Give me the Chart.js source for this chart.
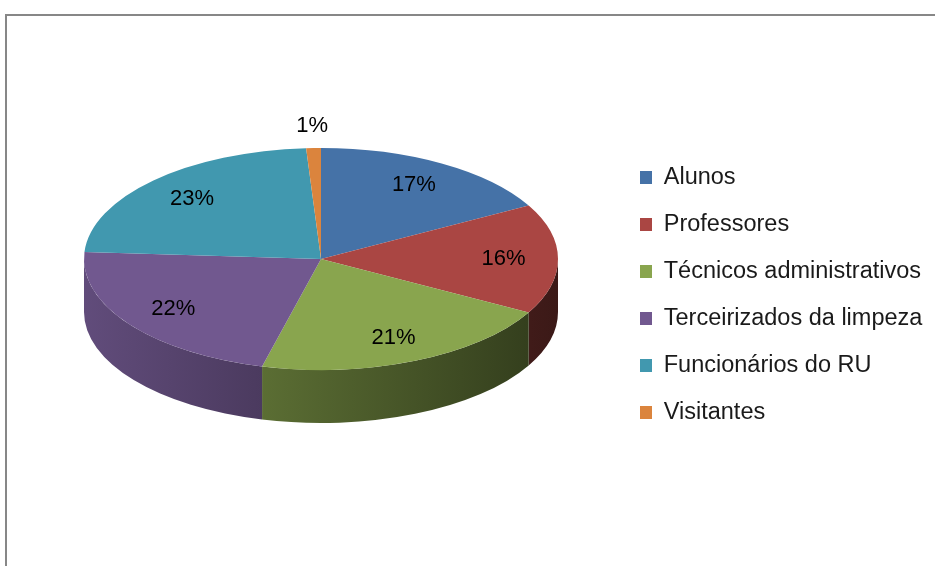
<!DOCTYPE html>
<html><head><meta charset="utf-8">
<script src="https://cdn.jsdelivr.net/npm/chart.js@4.4.1/dist/chart.umd.min.js"></script>
<style>html,body{margin:0;padding:0;background:#fff;overflow:hidden}canvas{display:block}</style>
</head><body>
<canvas id="c" width="935" height="566"></canvas>
<script>
// ---- data ----
const categories = ['Alunos', 'Professores', 'Técnicos administrativos', 'Terceirizados da limpeza', 'Funcionários do RU', 'Visitantes'];
const shares = [17, 16, 21, 22, 23, 1];
const sliceColors = ['#4572A7', '#AA4643', '#89A54E', '#71588F', '#4198AF', '#DB843D'];

// ---- 3D look (projection of the library's pie onto a tilted disc) ----
const GEO = { cx: 321, cy: 259, rx: 237, ry: 111, depth: 53 };
const FONT = 'Liberation Sans, Arial, sans-serif';

function shade(hex, k) {
  const n = parseInt(hex.slice(1), 16);
  const r = Math.round(((n >> 16) & 255) * k), g = Math.round(((n >> 8) & 255) * k), b = Math.round((n & 255) * k);
  return 'rgb(' + r + ',' + g + ',' + b + ')';
}

const pie3d = {
  id: 'pie3d',
  beforeDraw(chart) {
    const ctx = chart.ctx;
    ctx.save();
    ctx.fillStyle = '#878787';
    ctx.fillRect(5, 14, 930, 2);
    ctx.fillRect(5, 14, 2, 552);
    ctx.restore();
  },
  afterLayout(chart) {
    const lg = chart.legend;
    if (!lg) return;
    const pad = lg.options.labels.padding;
    const w = lg.width;
    lg.left = 640 - pad; lg.right = lg.left + w;
    lg.top += 12; lg.bottom += 12;
  },
  beforeDatasetsDraw(chart) {
    const ctx = chart.ctx;
    const arcs = chart.getDatasetMeta(0).data;
    if (!arcs.length) return;
    const R = arcs[0].outerRadius, ox = arcs[0].x, oy = arcs[0].y;
    const { cx, cy, rx, ry, depth } = GEO;
    arcs.forEach((arc, i) => {
      const s = Math.max(arc.startAngle, 0), e = Math.min(arc.endAngle, Math.PI);
      if (e <= s) return;
      const col = sliceColors[i];
      const g = ctx.createLinearGradient(cx - rx, 0, cx + rx, 0);
      g.addColorStop(0, shade(col, 0.86));
      g.addColorStop(0.36, shade(col, 0.67));
      g.addColorStop(1, shade(col, 0.35));
      ctx.beginPath();
      ctx.ellipse(cx, cy, rx, ry, 0, s, e, false);
      ctx.ellipse(cx, cy + depth, rx, ry, 0, e, s, true);
      ctx.closePath();
      ctx.fillStyle = g;
      ctx.fill();
    });
    ctx.save();
    ctx.translate(cx, cy);
    ctx.scale(rx / R, ry / R);
    ctx.translate(-ox, -oy);
  },
  afterDatasetsDraw(chart) {
    const ctx = chart.ctx;
    ctx.restore();
    const arcs = chart.getDatasetMeta(0).data;
    const { cx, cy, rx, ry } = GEO;
    ctx.save();
    ctx.font = '22px ' + FONT;
    ctx.fillStyle = '#000';
    ctx.textAlign = 'center';
    ctx.textBaseline = 'middle';
    arcs.forEach((arc, i) => {
      const m = (arc.startAngle + arc.endAngle) / 2;
      const f = shares[i] < 5 ? 1.2 : 0.77;
      ctx.fillText(shares[i] + '%', cx + rx * f * Math.cos(m), cy + ry * f * Math.sin(m));
    });
    ctx.restore();
  }
};

new Chart(document.getElementById('c'), {
  type: 'pie',
  data: {
    labels: categories,
    datasets: [{
      data: shares,
      backgroundColor: sliceColors,
      borderWidth: 0,
      hoverOffset: 0,
      clip: false
    }]
  },
  options: {
    responsive: false,
    animation: false,
    events: [],
    layout: { padding: { left: 20, right: 20, top: 0, bottom: 0 } },
    plugins: {
      tooltip: { enabled: false },
      legend: {
        position: 'right',
        labels: {
          boxWidth: 12,
          boxHeight: 13,
          padding: 23.5,
          color: '#1a1a1a',
          font: { family: FONT, size: 23.5 }
        }
      }
    }
  },
  plugins: [pie3d]
});
</script>
</body></html>
